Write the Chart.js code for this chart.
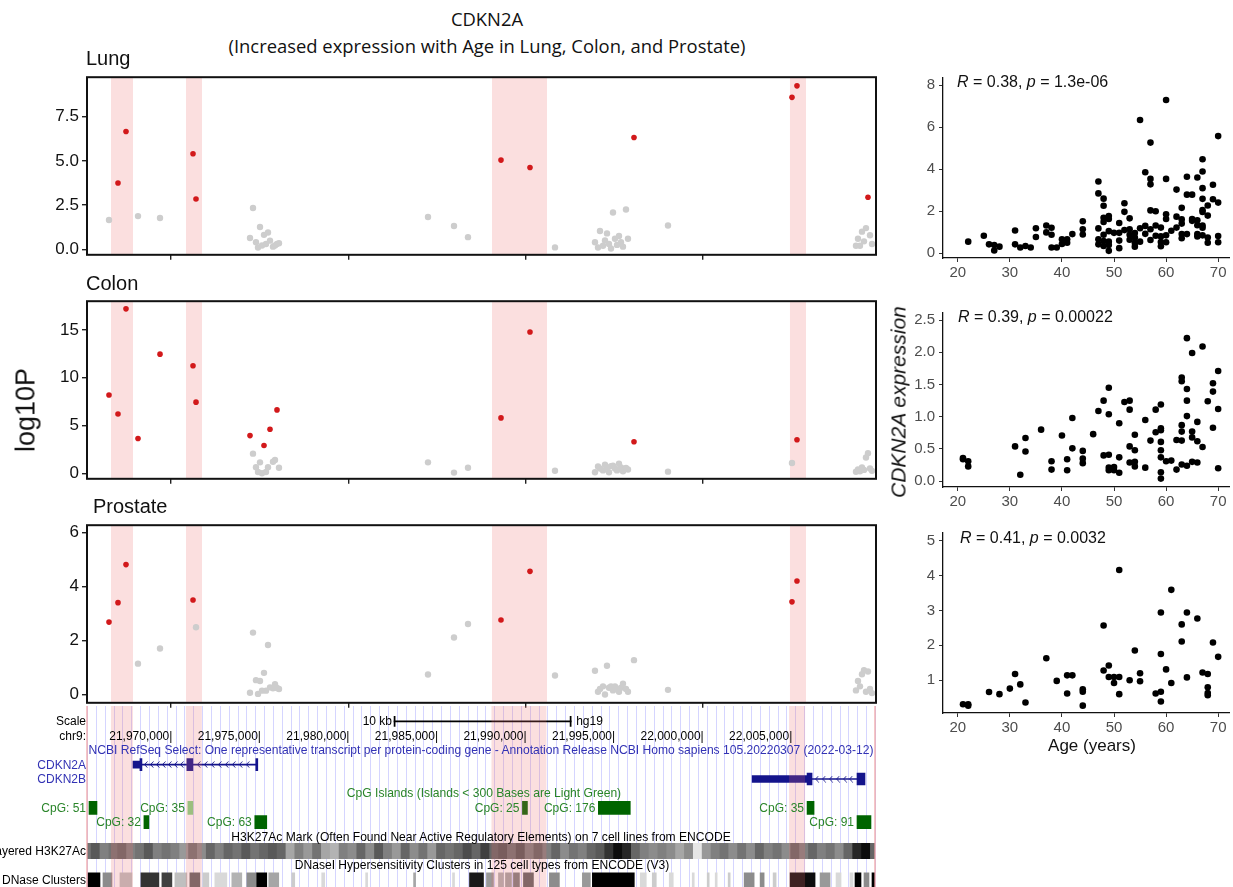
<!DOCTYPE html>
<html><head><meta charset="utf-8">
<script src="https://cdn.jsdelivr.net/npm/chart.js@4.4.1/dist/chart.umd.min.js"></script>
<style>
html,body{margin:0;padding:0;background:#fff;overflow:hidden;width:1233px;height:887px;}
#root{position:relative;width:1233px;height:887px;overflow:hidden;font-family:"Liberation Sans",Arial,sans-serif;}
canvas{position:absolute;}
.t{position:absolute;white-space:nowrap;line-height:1;}
</style></head><body><div id="root"></div>
<script>
// ---------------- DATA ----------------
// CpG probe positions (chr9, hg19) shared by the three tissues
const probePos = [21966504,21967011,21967462,21968139,21969380,21971241,21971410,
  21974455,21974624,21974793,21974906,21975019,21975131,21975244,21975357,21975470,21975583,21975752,21975865,21975977,21976090,
  21984492,21985958,21986748,21988609,21990244,21991654,
  21993909,21994079,21994191,21994360,21994473,21994586,21994699,21994812,21994924,21995037,21995150,21995263,21995376,21995488,21995657,21995770,
  21996109,21998026,22005018,22005300,
  22008627,22008740,22008853,22008965,22009078,22009191,22009304,22009417,22009530];
const lungLogP = [1.66,3.75,6.67,1.88,1.77,5.41,2.85,
  0.64,2.34,0.4,0.1,1.26,0.22,0.82,0.3,0.95,0.49,0.15,0.22,0.3,0.35,
  1.83,1.32,0.69,5.05,4.63,0.11,
  0.4,0.1,1.04,0.2,0.5,0.9,0.3,0.05,2.08,0.6,0.25,0.75,0.4,0.15,2.25,0.6,
  6.33,1.35,8.6,9.25,
  0.2,0.6,0.2,1.0,0.45,1.2,2.95,0.8,0.3];
const colonLogP = [8.18,6.2,17.2,3.64,12.46,11.25,7.44,
  3.94,2.05,0.64,0.13,1.14,0.0,2.9,0.13,0.64,4.61,1.2,1.38,6.63,0.57,
  1.14,0.07,0.57,5.79,14.78,0.27,
  0.1,0.7,0.5,0.3,0.9,0.6,0.1,0.75,0.8,0.5,0.3,1.0,0.6,0.2,0.55,0.4,
  3.3,0.17,1.08,3.5,
  0.15,0.4,0.2,0.6,0.35,1.65,2.1,0.5,0.25];
const prostateLogP = [2.68,3.4,4.81,1.14,1.7,3.5,2.49,
  0.06,2.29,0.53,0.02,0.5,0.14,0.8,0.14,1.83,0.26,0.23,0.38,0.24,0.2,
  0.74,2.11,2.61,2.76,4.56,0.7,
  0.88,0.1,0.2,0.3,0.0,1.06,0.25,0.3,0.15,0.3,0.2,0.1,0.25,0.4,0.2,0.1,
  1.27,0.17,3.43,4.2,
  0.15,0.5,0.3,0.75,0.9,0.1,0.85,0.2,0.05];
const sigThresholds = [2.5, 2.5, 2.65]; // lung, colon, prostate
const highlightStart = [21966617, 21970846, 21988101, 22004905];
const highlightEnd   = [21967857, 21971748, 21991203, 22005808];
const genomeTicks = [21970000, 21980000, 21990000, 22000000];
const lungYTicks = [0, 2.5, 5, 7.5];
const colonYTicks = [0, 5, 10, 15];
const prostateYTicks = [0, 2, 4, 6];

// expression vs age
const lungAge = [22,25,26,27,27,28,31,31,32,33,34,35,35,37,37,38,38,38,39,40,40,41,41,42,44,44,44,
  47,47,47,47,47,48,48,48,48,48,48,48,49,49,49,49,49,49,50,51,51,51,51,52,52,52,53,53,53,53,54,54,54,54,
  55,55,55,56,56,56,57,57,57,57,57,57,58,58,58,59,59,59,59,60,60,60,60,60,60,61,62,62,62,63,63,63,63,63,
  64,64,64,65,65,65,66,66,66,66,66,67,67,67,67,67,67,67,67,67,68,68,68,68,69,69,70,70,70,70];
const lungExpr = [0.55,0.83,0.42,0.39,0.13,0.31,1.08,0.42,0.27,0.34,0.27,1.19,0.77,1.32,0.99,1.21,0.88,0.27,0.27,0.66,0.44,0.66,0.5,0.91,1.52,1.14,0.89,
  3.42,2.85,1.18,0.66,0.42,2.6,2.26,1.69,1.49,0.88,0.58,0.34,1.77,1.63,1.05,0.55,0.39,0.11,0.97,1.44,0.97,0.6,0.24,2.38,1.97,1.1,1.66,1.14,0.88,0.64,0.96,0.75,0.49,0.31,
  6.35,1.19,0.55,3.86,1.3,0.92,5.27,3.54,3.28,2.04,1.14,0.63,2.0,1.32,0.83,1.22,0.8,0.53,0.33,7.3,3.54,1.85,1.63,0.85,0.52,1.07,3.03,1.74,1.22,2.16,1.61,1.41,0.91,0.71,
  3.64,2.79,0.91,2.79,1.63,1.54,3.61,1.57,1.33,0.91,0.8,4.48,3.89,3.1,2.59,2.05,1.96,1.32,1.21,0.85,2.27,1.79,0.75,0.5,3.26,2.57,5.58,2.41,0.82,0.52];
const colonAge = [21,21,22,22,31,32,33,33,36,38,38,40,41,41,42,42,44,44,44,46,47,48,48,49,49,49,49,49,50,50,51,51,51,52,
  53,53,53,53,54,54,54,54,56,56,57,58,58,59,59,59,59,59,59,59,59,60,61,62,62,63,63,63,63,63,63,64,64,64,64,64,
  65,65,65,65,66,66,66,67,67,68,69,69,69,70,70,70];
const colonExpr = [0.36,0.34,0.31,0.23,0.54,0.10,0.67,0.46,0.80,0.31,0.18,0.71,0.34,0.17,0.98,0.51,0.47,0.35,0.28,0.73,1.09,1.25,0.40,1.45,1.04,0.41,0.21,0.17,0.22,0.17,0.90,0.37,0.13,1.23,
  1.25,1.11,0.54,0.29,0.72,0.48,0.30,0.23,0.95,0.21,0.63,1.11,0.76,1.19,0.82,0.79,0.61,0.48,0.37,0.14,0.04,0.31,0.32,0.64,0.18,1.61,1.55,0.87,0.77,0.63,0.26,2.22,1.43,1.25,1.01,0.24,
  1.99,0.77,0.68,0.30,0.92,0.62,0.29,2.09,0.53,1.24,1.52,1.39,0.83,1.71,1.12,0.20];
const prostateAge = [21,22,22,26,28,30,31,32,33,37,39,41,41,42,44,44,44,48,48,49,49,50,50,51,51,51,53,54,55,55,58,
  59,59,59,59,60,61,61,63,63,64,64,66,67,68,68,68,68,69,70];
const prostateExpr = [0.31,0.31,0.27,0.66,0.6,0.76,1.18,0.88,0.36,1.63,0.98,1.14,0.62,1.14,0.74,0.67,0.27,2.57,1.28,1.42,1.09,1.09,0.92,4.16,1.09,0.6,1.0,1.85,1.2,0.97,0.62,
  2.94,1.75,0.67,0.39,1.31,3.59,0.92,2.6,2.11,2.94,1.08,2.77,1.22,1.18,0.8,0.63,0.57,2.08,1.67];
const ageTicks = [20, 30, 40, 50, 60, 70];
const lungExprTicks = [0, 2, 4, 6, 8];
const colonExprTicks = [0, 0.5, 1, 1.5, 2, 2.5];
const prostateExprTicks = [1, 2, 3, 4, 5];

// genome browser tracks
const browserRows = ['scale','pos','refseq','CDKN2A','CDKN2B','cpgTitle','cpg1','cpg2','h3Title','h3k','dnTitle','dnase'];
const scaleBar = [21982600, 21992600];
const chromLabelPos = [21970000,21975000,21980000,21985000,21990000,21995000,22000000,22005000];
const geneRow      = ['CDKN2A','CDKN2B'];
const intronStart  = [21968365, 22006202];
const intronEnd    = [21974793, 22008740];
const utrStart = [21967857, 22002819];
const utrEnd   = [21968252, 22005920];
const cdsRow   = ['CDKN2A','CDKN2A','CDKN2A','CDKN2B','CDKN2B'];
const cdsStart = [21968252, 21970902, 21974793, 22005920, 22008740];
const cdsEnd   = [21968365, 21971241, 21974906, 22006202, 22009191];
const chevronRow = ['CDKN2A','CDKN2A','CDKN2A','CDKN2A','CDKN2A','CDKN2A','CDKN2A',
  'CDKN2A','CDKN2A','CDKN2A','CDKN2A','CDKN2A','CDKN2A','CDKN2A','CDKN2A',
  'CDKN2B','CDKN2B','CDKN2B','CDKN2B','CDKN2B','CDKN2B'];
const chevronPos = [21968590,21968929,21969267,21969605,21969944,21970282,21970620,
  21971579,21971974,21972368,21972763,21973158,21973553,21973947,21974342,
  22006484,22006879,22007274,22007669,22008063,22008402];
const cpgName  = ['CpG: 51','CpG: 35','CpG: 25','CpG: 176','CpG: 35','CpG: 32','CpG: 63','CpG: 91'];
const cpgRow   = ['cpg1','cpg1','cpg1','cpg1','cpg1','cpg2','cpg2','cpg2'];
const cpgStart = [21965376,21970959,21989849,21994135,22005920,21968477,21974737,22008740];
const cpgEnd   = [21965827,21971241,21990131,21995939,22006315,21968759,21975413,22009529];
const cpgSmall = [false,true,false,false,false,false,false,false];
const h3Start = 21965000, h3Bin = 500;
const h3Signal = [0.55,0.65,0.5,0.55,0.6,0.5,0.55,0.65,0.5,0.55,
  0.5,0.4,0.55,0.45,0.6,0.5,0.6,0.55,0.65,0.55,
  0.6,0.65,0.6,0.35,0.5,0.4,0.55,0.35,0.3,0.5,
  0.45,0.6,0.45,0.65,0.5,0.4,0.6,0.45,0.55,0.4,
  0.6,0.55,0.6,0.7,0.6,0.75,0.6,0.65,0.55,0.65,
  0.5,0.6,0.5,0.6,0.45,0.55,0.5,0.6,0.65,0.8,
  0.95,0.85,0.6,0.5,0.45,0.5,0.45,0.35,0.45,0.1,
  0.4,0.5,0.55,0.45,0.55,0.45,0.6,0.5,0.55,0.45,
  0.6,0.5,0.6,0.5,0.55,0.45,0.6,0.85,0.95,0.6];
const dnaseStart = [21965320,21966165,21967124,21968308,21969492,21970226,21971071,21971804,21972481,21973440,
  21974286,21974850,21975526,21976823,21978515,21980996,21983703,21985902,21986861,21987819,
  21988496,21988891,21989342,21989906,21991372,21993233,21993797,21996503,21997180,21998139,
  21999436,22000281,22000733,22001466,22002368,22003270,22004003,22004962,22006654,22007556,
  22008345,22008627,22009135,22009586];
const dnaseEnd = [21965996,21966673,21967801,21969323,21970056,21970902,21971635,21972143,21973158,21974004,
  21974850,21975413,21976090,21976992,21978684,21981109,21983816,21986015,21987650,21988214,
  21988778,21989229,21989680,21990470,21991936,21993684,21996165,21996842,21997406,21998364,
  21999548,22000394,22000845,22001578,22002932,22003496,22004172,22006372,22007217,22007838,
  22008514,22008965,22009417,22009811];
const dnaseScore = [1.0,0.45,0.25,0.8,0.75,0.25,0.6,0.2,0.15,0.3,
  0.45,1.0,0.35,0.2,0.15,0.15,0.35,0.15,0.9,0.4,
  0.3,0.35,0.5,0.6,0.45,0.4,1.0,0.15,0.2,0.15,
  0.15,0.2,0.15,0.2,0.45,0.45,0.2,0.95,0.4,0.15,
  0.15,1.0,0.45,1.0];

// ---------------- SETUP ----------------
const X_MIN = 21965263, X_MAX = 22009756;
const FONT = '"Liberation Sans", Arial, Helvetica, sans-serif';
Chart.defaults.font.family = FONT;
Chart.defaults.animation = false;
const RED = '#d2191b', GRAY = '#cdcdcd', BAND = 'rgba(235,110,110,0.22)';
const root = document.getElementById('root');

function mkCanvas(left, top, w, h) {
  const c = document.createElement('canvas');
  c.width = w; c.height = h;
  Object.assign(c.style, {left: left + 'px', top: top + 'px', width: w + 'px', height: h + 'px'});
  root.appendChild(c);
  return c;
}
function txt(html, x, y, o = {}) {
  const d = document.createElement('div');
  d.className = 't';
  d.innerHTML = html;
  const s = d.style;
  s.left = x + 'px'; s.top = y + 'px';
  s.fontSize = (o.size || 12) + 'px';
  s.fontFamily = o.family || FONT;
  s.color = o.color || '#000';
  if (o.italic) s.fontStyle = 'italic';
  const tx = o.align === 'right' ? '-100%' : o.align === 'center' ? '-50%' : '0';
  s.transform = `translate(${tx},-50%)` + (o.rotate ? ` rotate(${o.rotate}deg)` : '');
  root.appendChild(d);
  return d;
}
const gray = d => { const v = Math.round(255 * (1 - d)); return `rgb(${v},${v},${v})`; };
const fixTicks = arr => (s => { s.ticks = arr.map(v => ({value: v})); });

const bandPlugin = {
  id: 'bands',
  beforeDatasetsDraw(chart) {
    const {ctx, chartArea: a, scales: {x}} = chart;
    ctx.save();
    ctx.fillStyle = BAND;
    highlightStart.forEach((s, i) => {
      const x0 = x.getPixelForValue(s), x1 = x.getPixelForValue(highlightEnd[i]);
      ctx.fillRect(x0, a.top, x1 - x0, a.bottom - a.top);
    });
    ctx.restore();
  }
};
const boxPlugin = {
  id: 'box',
  afterDatasetsDraw(chart) {
    const {ctx, chartArea: a} = chart;
    ctx.save();
    ctx.strokeStyle = '#111'; ctx.lineWidth = 2;
    ctx.strokeRect(a.left, a.top, a.right - a.left, a.bottom - a.top);
    ctx.restore();
  }
};

function manhattan(top, logP, thr, yMin, yMax, yTicks, fmt) {
  const cv = mkCanvas(0, top, 880, 204);
  return new Chart(cv, {
    type: 'scatter',
    data: {datasets: [{
      data: probePos.map((p, i) => ({x: p, y: logP[i]})),
      backgroundColor: logP.map(v => v > thr ? RED : GRAY),
      pointRadius: logP.map(v => v > thr ? 2.8 : 3.2),
      borderWidth: 0
    }]},
    options: {
      responsive: false, events: [],
      layout: {padding: {top: 10, right: 4, left: 0, bottom: 0}},
      plugins: {legend: {display: false}, tooltip: {enabled: false}},
      scales: {
        x: {type: 'linear', min: X_MIN, max: X_MAX, afterBuildTicks: fixTicks(genomeTicks),
            afterFit: s => { s.height = 10; },
            ticks: {display: false},
            grid: {drawOnChartArea: false, drawTicks: true, tickLength: 5, color: '#222', lineWidth: 1.4},
            border: {display: false}},
        y: {min: yMin, max: yMax, afterBuildTicks: fixTicks(yTicks),
            afterFit: s => { s.width = 87; },
            ticks: {callback: fmt, color: '#111', font: {size: 17}, padding: 3},
            grid: {drawOnChartArea: false, tickLength: 5, color: '#222', lineWidth: 1.4},
            border: {display: false}}
      }
    },
    plugins: [bandPlugin, boxPlugin]
  });
}

manhattan(64, lungLogP, sigThresholds[0], -0.31, 9.74, lungYTicks, v => v.toFixed(1));
manhattan(288, colonLogP, sigThresholds[1], -0.58, 18.0, colonYTicks, v => String(v));
manhattan(512, prostateLogP, sigThresholds[2], -0.31, 6.27, prostateYTicks, v => String(v));

function scatterPlot(top, height, ages, expr, yMin, yMax, yTicks, fmt) {
  const cv = mkCanvas(880, top, 353, height);
  return new Chart(cv, {
    type: 'scatter',
    data: {datasets: [{data: ages.map((a, i) => ({x: a, y: expr[i]})),
      backgroundColor: '#000', pointRadius: 3.3, borderWidth: 0}]},
    options: {
      responsive: false, events: [],
      layout: {padding: {top: 10, right: 0, left: 0, bottom: 0}},
      plugins: {legend: {display: false}, tooltip: {enabled: false}},
      scales: {
        x: {type: 'linear', min: 17.16, max: 72.08, afterBuildTicks: fixTicks(ageTicks),
            afterFit: s => { s.height = 32; },
            ticks: {color: '#4d4d4d', font: {size: 15}, padding: 2},
            grid: {drawOnChartArea: false, tickLength: 4, color: '#333'},
            border: {display: true, color: '#111', width: 1.3}},
        y: {min: yMin, max: yMax, afterBuildTicks: fixTicks(yTicks),
            afterFit: s => { s.width = 63; },
            ticks: {callback: fmt, color: '#4d4d4d', font: {size: 15}, padding: 4},
            grid: {drawOnChartArea: false, tickLength: 4, color: '#333'},
            border: {display: true, color: '#111', width: 1.3}}
      }
    }
  });
}
scatterPlot(65, 225, lungAge, lungExpr, -0.23, 8.35, lungExprTicks, v => String(v));
scatterPlot(300, 219, colonAge, colonExpr, -0.09, 2.61, colonExprTicks, v => v.toFixed(1));
scatterPlot(520, 225, prostateAge, prostateExpr, 0.06, 5.22, prostateExprTicks, v => String(v));

// ---------------- GENOME BROWSER ----------------
const chev = document.createElement('canvas');
chev.width = 6; chev.height = 7;
{ const c = chev.getContext('2d'); c.strokeStyle = '#1a1a8c'; c.lineWidth = 1;
  c.beginPath(); c.moveTo(4.5, 0.5); c.lineTo(1.5, 3.5); c.lineTo(4.5, 6.5); c.stroke(); }

const GENE = '#14148c';
const browserPlugin = {
  id: 'browserDecor',
  beforeDatasetsDraw(chart) {
    const {ctx, scales: {x}} = chart;
    ctx.save();
    ctx.strokeStyle = 'rgba(190,190,255,0.65)'; ctx.lineWidth = 1;
    x.ticks.forEach(t => {
      const px = Math.round(x.getPixelForValue(t.value)) + 0.5;
      ctx.beginPath(); ctx.moveTo(px, 0); ctx.lineTo(px, chart.height); ctx.stroke();
    });
    ctx.restore();
  },
  afterDatasetsDraw(chart) {
    const {ctx, scales: {x}} = chart;
    ctx.save();
    ctx.fillStyle = BAND;
    highlightStart.forEach((s, i) => {
      const x0 = x.getPixelForValue(s), x1 = x.getPixelForValue(highlightEnd[i]);
      ctx.fillRect(x0, 0, x1 - x0, chart.height);
    });
    ctx.strokeStyle = '#f0a0a0'; ctx.lineWidth = 1.2;
    [x.left, x.right].forEach(px => { ctx.beginPath(); ctx.moveTo(px, 0); ctx.lineTo(px, chart.height); ctx.stroke(); });
    ctx.restore();
  }
};
const fb = (s, e, row) => ({x: [s, e], y: row});
const BTOP = 706;
const bcv = mkCanvas(0, BTOP, 880, 186);
const browser = new Chart(bcv, {
  type: 'bar',
  data: {
    labels: browserRows,
    datasets: [
      {data: [fb(scaleBar[0], scaleBar[1], 'scale')], backgroundColor: '#000', barThickness: 1, grouped: false},
      {data: [fb(scaleBar[0], scaleBar[0] + 60, 'scale'), fb(scaleBar[1] - 60, scaleBar[1], 'scale')], backgroundColor: '#000', barThickness: 10, grouped: false},
      {data: geneRow.map((r, i) => fb(intronStart[i], intronEnd[i], r)), backgroundColor: GENE, barThickness: 1, grouped: false},
      {data: geneRow.map((r, i) => fb(utrStart[i], utrEnd[i], r)), backgroundColor: GENE, barThickness: 7, grouped: false},
      {data: cdsRow.map((r, i) => fb(cdsStart[i], cdsEnd[i], r)), backgroundColor: GENE, barThickness: 12, grouped: false},
      {type: 'scatter', data: chevronPos.map((p, i) => ({x: p, y: chevronRow[i]})), pointStyle: chev, pointRadius: 3},
      {data: cpgRow.map((r, i) => fb(cpgStart[i], cpgEnd[i], r)), backgroundColor: cpgSmall.map(s => s ? '#85d685' : '#006400'), barThickness: 13, grouped: false},
      {data: h3Signal.map((v, k) => fb(h3Start + k * h3Bin, h3Start + (k + 1) * h3Bin, 'h3k')), backgroundColor: h3Signal.map(gray), barThickness: 15, grouped: false, inflateAmount: 0.4},
      {data: dnaseStart.map((s, i) => fb(s, dnaseEnd[i], 'dnase')), backgroundColor: dnaseScore.map(gray), barThickness: 14, grouped: false}
    ]
  },
  options: {
    indexAxis: 'y', responsive: false, events: [],
    layout: {padding: {top: 8.2, bottom: 1.8, left: 87, right: 4}},
    plugins: {legend: {display: false}, tooltip: {enabled: false}},
    scales: {
      x: {type: 'linear', min: X_MIN, max: X_MAX, afterFit: s => { s.height = 0; },
          ticks: {display: false, stepSize: 500}, grid: {display: false}, border: {display: false}},
      y: {type: 'category', display: false, offset: true}
    }
  },
  plugins: [browserPlugin]
});

// ---------------- TEXT ----------------
txt('CDKN2A', 487, 19, {align: 'center', size: 18.4, family: '"Open Sans", sans-serif', color: '#111'});
txt('(Increased expression with Age in Lung, Colon, and Prostate)', 487, 46, {align: 'center', size: 18.4, family: '"Open Sans", sans-serif', color: '#111'});
txt('Lung', 86, 58, {size: 20, color: '#111'});
txt('Colon', 86, 283, {size: 20, color: '#111'});
txt('Prostate', 93, 506, {size: 20, color: '#111'});
txt('log10P', 26, 410, {align: 'center', size: 27, rotate: -90, color: '#111'});
txt('<i>R</i> = 0.38, <i>p</i> = 1.3e-06', 957, 82, {size: 16, color: '#111'});
txt('<i>R</i> = 0.39, <i>p</i> = 0.00022', 958, 317, {size: 16, color: '#111'});
txt('<i>R</i> = 0.41, <i>p</i> = 0.0032', 960, 538, {size: 16, color: '#111'});
txt('CDKN2A expression', 898, 402, {align: 'center', size: 21, italic: true, rotate: -90, color: '#111'});
txt('Age (years)', 1092, 745, {align: 'center', size: 17, color: '#111'});

const bx = browser.scales.x, by = browser.scales.y;
const rowY = name => BTOP + by.getPixelForValue(browserRows.indexOf(name));
const px = v => bx.getPixelForValue(v);
const BLUE_T = '#3232b4', GREEN_T = '#2a852a';
// fit title font so the RefSeq line spans the track width
const refTitle = 'NCBI RefSeq Select: One representative transcript per protein-coding gene - Annotation Release NCBI Homo sapiens 105.20220307 (2022-03-12)';
const mctx = document.createElement('canvas').getContext('2d');
mctx.font = '12px ' + FONT;
const tsize = Math.min(12.5, 12 * 786 / mctx.measureText(refTitle).width);

txt('Scale', 86, rowY('scale'), {align: 'right', size: 12});
txt('10 kb', px(scaleBar[0]) - 2, rowY('scale'), {align: 'right', size: 12});
txt('hg19', px(scaleBar[1]) + 5, rowY('scale'), {size: 12});
txt('chr9:', 86, rowY('pos'), {align: 'right', size: 12});
chromLabelPos.forEach(p => txt(p.toLocaleString('en-US') + '|', px(p) + 1.5, rowY('pos'), {align: 'right', size: 12}));
txt(refTitle, (bx.left + bx.right) / 2, rowY('refseq'), {align: 'center', size: tsize, color: BLUE_T});
txt('CDKN2A', 86, rowY('CDKN2A'), {align: 'right', size: 12, color: BLUE_T});
txt('CDKN2B', 86, rowY('CDKN2B'), {align: 'right', size: 12, color: BLUE_T});
txt('CpG Islands (Islands &lt; 300 Bases are Light Green)', 484, rowY('cpgTitle'), {align: 'center', size: tsize, color: GREEN_T});
cpgName.forEach((n, i) => txt(n, px(cpgStart[i]) - 3, rowY(cpgRow[i]), {align: 'right', size: 12, color: GREEN_T}));
txt('H3K27Ac Mark (Often Found Near Active Regulatory Elements) on 7 cell lines from ENCODE', 481, rowY('h3Title'), {align: 'center', size: tsize});
txt('Layered H3K27Ac', 86, rowY('h3k'), {align: 'right', size: 12});
txt('DNaseI Hypersensitivity Clusters in 125 cell types from ENCODE (V3)', 482, rowY('dnTitle'), {align: 'center', size: tsize});
txt('DNase Clusters', 86, rowY('dnase'), {align: 'right', size: 12});
</script>
</body></html>
